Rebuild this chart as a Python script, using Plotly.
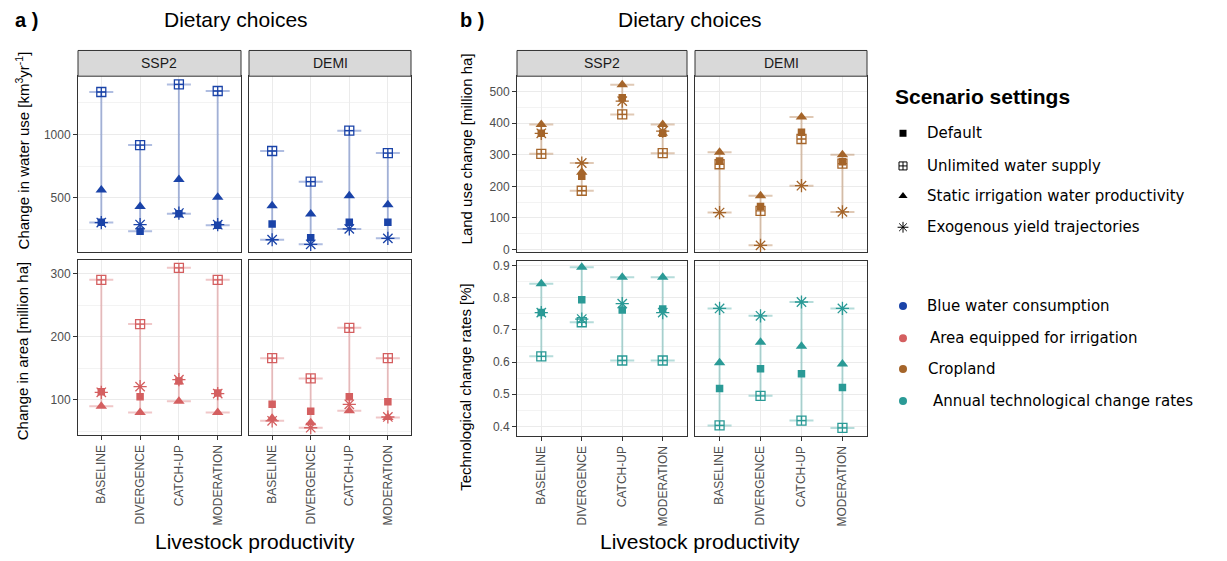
import plotly.graph_objects as go

W, H = 1227, 561

categories = ["BASELINE", "DIVERGENCE", "CATCH-UP", "MODERATION"]
regions = ["SSP2", "DEMI"]
scenarios = ["Default", "Unlimited water supply",
             "Static irrigation water productivity", "Exogenous yield trajectories"]

# Change in water use [km3/yr]
water_ssp2_default = [307, 237, 375, 284]
water_ssp2_unlimited = [1336, 917, 1396, 1344]
water_ssp2_static = [562, 432, 646, 505]
water_ssp2_exo = [305, 289, 380, 288]
water_demi_default = [294, 185, 307, 307]
water_demi_unlimited = [870, 628, 1031, 854]
water_demi_static = [437, 372, 516, 445]
water_demi_exo = [169, 133, 255, 180]

# Change in area equipped for irrigation [million ha]
area_ssp2_default = [113, 105, 130, 111]
area_ssp2_unlimited = [290, 220, 309, 290]
area_ssp2_static = [90, 80, 98, 80]
area_ssp2_exo = [112, 121, 132, 110]
area_demi_default = [93, 82, 105, 97]
area_demi_unlimited = [166, 134, 214, 166]
area_demi_static = [71, 64, 83, 72]
area_demi_exo = [67, 56, 93, 73]

# Land use change (cropland) [million ha]
land_ssp2_default = [368, 232, 481, 368]
land_ssp2_unlimited = [303, 186, 428, 305]
land_ssp2_static = [396, 245, 522, 396]
land_ssp2_exo = [368, 274, 470, 375]
land_demi_default = [280, 136, 371, 278]
land_demi_unlimited = [270, 122, 350, 272]
land_demi_static = [308, 170, 420, 300]
land_demi_exo = [117, 13, 202, 119]

# Technological change rates [%]
tech_ssp2_default = [0.754, 0.794, 0.762, 0.765]
tech_ssp2_unlimited = [0.618, 0.724, 0.605, 0.605]
tech_ssp2_static = [0.844, 0.895, 0.864, 0.864]
tech_ssp2_exo = [0.754, 0.734, 0.782, 0.754]
tech_demi_default = [0.518, 0.579, 0.564, 0.521]
tech_demi_unlimited = [0.403, 0.495, 0.418, 0.395]
tech_demi_static = [0.598, 0.662, 0.649, 0.594]
tech_demi_exo = [0.767, 0.744, 0.787, 0.767]

COL_BLUE = (26, 67, 168)
COL_RED = (212, 95, 96)
COL_BROWN = (165, 101, 42)
COL_TEAL = (42, 154, 150)


def rgb(c, a=1.0):
    return f"rgba({c[0]},{c[1]},{c[2]},{a})"


FONT = "Liberation Sans, Arial, sans-serif"
LEGFONT = "DejaVu Sans, Verdana, sans-serif"

panels = [
    ((78, 241, 75, 253), [water_ssp2_default, water_ssp2_unlimited, water_ssp2_static, water_ssp2_exo], COL_BLUE, [70, 1461], 500, 250, True, False),
    ((249, 411, 75, 253), [water_demi_default, water_demi_unlimited, water_demi_static, water_demi_exo], COL_BLUE, [70, 1461], 500, 250, False, False),
    ((78, 241, 261, 438), [area_ssp2_default, area_ssp2_unlimited, area_ssp2_static, area_ssp2_exo], COL_RED, [44, 321], 100, 50, True, True),
    ((249, 411, 261, 438), [area_demi_default, area_demi_unlimited, area_demi_static, area_demi_exo], COL_RED, [44, 321], 100, 50, False, True),
    ((517, 687, 75, 253), [land_ssp2_default, land_ssp2_unlimited, land_ssp2_static, land_ssp2_exo], COL_BROWN, [-9, 549], 100, 50, True, False),
    ((695, 867, 75, 253), [land_demi_default, land_demi_unlimited, land_demi_static, land_demi_exo], COL_BROWN, [-9, 549], 100, 50, False, False),
    ((517, 687, 262, 439), [tech_ssp2_default, tech_ssp2_unlimited, tech_ssp2_static, tech_ssp2_exo], COL_TEAL, [0.369, 0.914], 0.1, 0.05, True, True),
    ((695, 867, 262, 439), [tech_demi_default, tech_demi_unlimited, tech_demi_static, tech_demi_exo], COL_TEAL, [0.369, 0.914], 0.1, 0.05, False, True),
]

fig = go.Figure()
layout = {}

sym = ["square", "square-cross-open", "triangle-up", "asterisk-open"]
sizes = [7.5, 9, 10, 11]

for i, (box, series, col, yr, dt, mdt, showy, showx) in enumerate(panels):
    k = i + 1
    xa = f"x{k}" if k > 1 else "x"
    ya = f"y{k}" if k > 1 else "y"
    x0, x1, y0, y1 = box
    lo = [min(v) for v in zip(*series)]
    hi = [max(v) for v in zip(*series)]
    fig.add_trace(go.Scatter(
        x=categories, y=lo, mode="markers",
        marker=dict(color="rgba(0,0,0,0)", size=1),
        error_y=dict(type="data", symmetric=False,
                     array=[h - l for h, l in zip(hi, lo)],
                     arrayminus=[0] * 4, color=rgb(col, 0.35),
                     thickness=2, width=12),
        xaxis=xa, yaxis=ya, showlegend=False, hoverinfo="skip"))
    for s_i, vals in enumerate(series):
        fig.add_trace(go.Scatter(
            x=categories, y=vals, mode="markers",
            marker=dict(symbol=sym[s_i], size=sizes[s_i], color=rgb(col),
                        line=dict(color=rgb(col), width=1.3 if s_i in (1, 3) else 0)),
            xaxis=xa, yaxis=ya, showlegend=False, name=scenarios[s_i]))
    axx = dict(domain=[x0 / W, x1 / W], anchor=ya, type="category",
               categoryorder="array", categoryarray=categories,
               range=[-0.6, 3.6], showgrid=True, gridcolor="#ebebeb",
               gridwidth=1, zeroline=False, showline=True, mirror=True,
               linecolor="#333333", linewidth=1,
               showticklabels=showx, ticks="outside" if showx else "",
               ticklen=4, tickcolor="#333333", tickangle=-90,
               tickfont=dict(family=FONT, size=12, color="#4d4d4d"))
    axy = dict(domain=[1 - y1 / H, 1 - y0 / H], anchor=xa, range=yr,
               dtick=dt, tick0=0, showgrid=True, gridcolor="#ebebeb",
               gridwidth=1, zeroline=False, showline=True, mirror=True,
               linecolor="#333333", linewidth=1,
               showticklabels=showy, ticks="outside" if showy else "",
               ticklen=4, tickcolor="#333333",
               tickfont=dict(family=FONT, size=12, color="#4d4d4d"),
               minor=dict(dtick=mdt, tick0=0, showgrid=True, gridcolor="#f3f3f3", gridwidth=1))
    layout["xaxis" if k == 1 else f"xaxis{k}"] = axx
    layout["yaxis" if k == 1 else f"yaxis{k}"] = axy

shapes = []
annotations = []


def ann(text, px, py, size, family=FONT, xanchor="center", angle=0, color="#000000"):
    annotations.append(dict(text=text, x=px / W, y=1 - py / H, xref="paper", yref="paper",
                            xanchor=xanchor, yanchor="middle", showarrow=False,
                            textangle=angle,
                            font=dict(family=family, size=size, color=color)))


# strips
for (sx0, sx1, label) in [(78, 241, "SSP2"), (249, 411, "DEMI"), (517, 687, "SSP2"), (695, 867, "DEMI")]:
    shapes.append(dict(type="rect", xref="paper", yref="paper",
                       x0=sx0 / W, x1=sx1 / W, y0=1 - 75 / H, y1=1 - 49 / H,
                       fillcolor="#d9d9d9", line=dict(color="#333333", width=1), layer="above"))
    ann(label, (sx0 + sx1) / 2, 62, 14, color="#1a1a1a")

# titles
ann("<b>a )</b>", 13, 18, 20, xanchor="left")
ann("<b>b )</b>", 458, 18, 20, xanchor="left")
ann("Dietary choices", 236, 18, 21)
ann("Dietary choices", 690, 18, 21)
ann("Livestock productivity", 255, 545, 21)
ann("Livestock productivity", 700, 545, 21)

# y titles
ann("Change in water use [km<sup>3</sup>yr<sup>-1</sup>]", 22, 150, 15, angle=-90)
ann("Change in area [million ha]", 22, 353, 15, angle=-90)
ann("Land use change [million ha]", 466, 148, 15, angle=-90)
ann("Technological change rates [%]", 466, 389, 15, angle=-90)

# legend
ann("<b>Scenario settings</b>", 893, 96, 21, xanchor="left")
leg_shape_y = [132.7, 165.7, 196, 227.7]
leg_shape_sizes = [7, 8, 8, 9]
for s_i, name in enumerate(scenarios):
    fig.add_trace(go.Scatter(
        x=[903], y=[leg_shape_y[s_i]], mode="markers",
        marker=dict(symbol=sym[s_i], size=leg_shape_sizes[s_i], color="#000000",
                    line=dict(color="#000000", width=1 if s_i in (1, 3) else 0)),
        xaxis="x9", yaxis="y9", showlegend=False, hoverinfo="skip"))
    ann(name, 925, leg_shape_y[s_i], 15, family=LEGFONT, xanchor="left")

indicators = ["Blue water consumption", "Area equipped for irrigation", "Cropland",
              "Annual technological change rates"]
ind_cols = [COL_BLUE, COL_RED, COL_BROWN, COL_TEAL]
ind_y = [307.3, 340, 371, 403.3]
ind_tx = [925, 928, 926, 931]
for j, name in enumerate(indicators):
    fig.add_trace(go.Scatter(
        x=[903], y=[ind_y[j]], mode="markers",
        marker=dict(symbol="circle", size=8, color=rgb(ind_cols[j])),
        xaxis="x9", yaxis="y9", showlegend=False, hoverinfo="skip"))
    ann(name, ind_tx[j], ind_y[j], 15, family=LEGFONT, xanchor="left")

layout["xaxis9"] = dict(domain=[0, 1], range=[0, W], visible=False, anchor="y9", fixedrange=True)
layout["yaxis9"] = dict(domain=[0, 1], range=[H, 0], visible=False, anchor="x9", fixedrange=True)

fig.update_layout(
    width=W, height=H, margin=dict(l=0, r=0, t=0, b=0),
    paper_bgcolor="white", plot_bgcolor="rgba(0,0,0,0)",
    shapes=shapes, annotations=annotations, showlegend=False,
    font=dict(family=FONT), **layout)

fig.write_html("out.html", config={"displayModeBar": False},
               post_script="document.body.style.margin='0px';")
